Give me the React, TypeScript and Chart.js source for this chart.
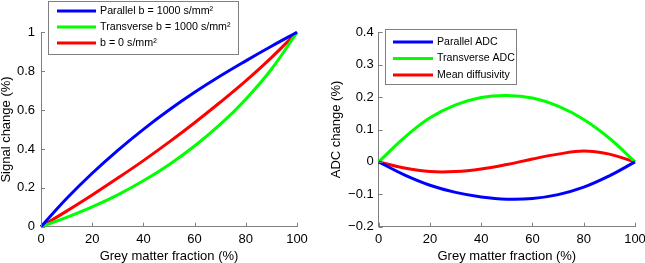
import React, { useEffect, useRef } from "react";
import { Chart, registerables } from "chart.js";
Chart.register(...registerables);

const FONT = '"Liberation Sans", Arial, Helvetica, sans-serif';
const AXIS_GREY = "#7f7f7f";

// ---- data ----
const gmFraction = [0, 10, 20, 30, 40, 50, 60, 70, 80, 90, 100];
const xTicks = [0, 20, 40, 60, 80, 100];

const parallelSignal = [0, 0.145, 0.275, 0.393, 0.501, 0.6, 0.691, 0.775, 0.853, 0.928, 1];
const transverseSignal = [0, 0.048, 0.102, 0.164, 0.236, 0.319, 0.415, 0.526, 0.656, 0.81, 1];
const b0Signal = [0, 0.08, 0.163, 0.25, 0.34, 0.435, 0.535, 0.64, 0.75, 0.87, 1];
const signalTicks = [0, 0.2, 0.4, 0.6, 0.8, 1];
const signalLabels = ["Parallel b = 1000 s/mm²", "Transverse b = 1000 s/mm²", "b = 0 s/mm²"];

const parallelADC = [0, -0.04, -0.072, -0.094, -0.108, -0.115, -0.113, -0.101, -0.078, -0.043, 0];
const transverseADC = [0, 0.075, 0.136, 0.176, 0.199, 0.205, 0.197, 0.172, 0.131, 0.073, 0];
const meanDiffusivity = [0, -0.019, -0.03, -0.03, -0.022, -0.008, 0.009, 0.024, 0.034, 0.024, 0];
const adcTicks = [-0.2, -0.1, 0, 0.1, 0.2, 0.3, 0.4];
const adcLabels = ["Parallel ADC", "Transverse ADC", "Mean diffusivity"];

const seriesColors = ["#0000ff", "#00ff00", "#ff0000"];

const toPoints = (ys: number[]) => gmFraction.map((x, i) => ({ x, y: ys[i] }));

const fmt = (v: number) => {
  const r = Math.round(v * 10) / 10;
  return (r < 0 ? "\u2212" : "") + String(Math.abs(r));
};

const inwardTicks = {
  id: "inwardTicks",
  afterDraw(chart: any) {
    const { ctx, chartArea, scales } = chart;
    const len = 4;
    ctx.save();
    ctx.strokeStyle = AXIS_GREY;
    ctx.lineWidth = 1;
    scales.x.ticks.forEach((t: any) => {
      const px = Math.round(scales.x.getPixelForValue(t.value)) + 0.5;
      ctx.beginPath();
      ctx.moveTo(px, chartArea.bottom);
      ctx.lineTo(px, chartArea.bottom - len);
      ctx.stroke();
    });
    scales.y.ticks.forEach((t: any) => {
      const py = Math.round(scales.y.getPixelForValue(t.value)) + 0.5;
      ctx.beginPath();
      ctx.moveTo(chartArea.left, py);
      ctx.lineTo(chartArea.left + len, py);
      ctx.stroke();
    });
    ctx.restore();
  },
};

const boxLegend = {
  id: "boxLegend",
  afterDraw(chart: any, _args: any, o: any) {
    if (!o || !o.box) return;
    const { ctx } = chart;
    const [bx, by, bw, bh] = o.box;
    ctx.save();
    ctx.fillStyle = "#ffffff";
    ctx.fillRect(bx, by, bw, bh);
    ctx.strokeStyle = AXIS_GREY;
    ctx.lineWidth = 1;
    ctx.strokeRect(bx + 0.5, by + 0.5, bw, bh);
    ctx.font = `${o.fontSize}px ${FONT}`;
    ctx.textBaseline = "middle";
    ctx.textAlign = "left";
    chart.data.datasets.forEach((ds: any, i: number) => {
      const y = o.rows[i];
      ctx.strokeStyle = ds.borderColor;
      ctx.lineWidth = 3;
      ctx.beginPath();
      ctx.moveTo(o.lineX[0], y);
      ctx.lineTo(o.lineX[1], y);
      ctx.stroke();
      ctx.fillStyle = "#000000";
      ctx.fillText(ds.label, o.textX, y);
    });
    ctx.restore();
  },
};

function makeConfig(opts: {
  series: number[][];
  labels: string[];
  yMin: number;
  yMax: number;
  yTicks: number[];
  yTitle: string;
  padLeft: number;
  padRight: number;
  yWidth: number;
  yPad: number;
  legend: any;
}) {
  return {
    type: "line",
    data: {
      datasets: opts.series.map((s, i) => ({
        label: opts.labels[i],
        data: toPoints(s),
        borderColor: seriesColors[i],
        backgroundColor: seriesColors[i],
        borderWidth: 3,
        pointRadius: 0,
        tension: 0.4,
        fill: false,
        clip: false,
      })),
    },
    options: {
      animation: false,
      responsive: false,
      devicePixelRatio: 1,
      layout: { padding: { left: opts.padLeft, right: opts.padRight, top: 32.3, bottom: 0 } },
      plugins: {
        legend: { display: false },
        tooltip: { enabled: false },
        boxLegend: opts.legend,
      },
      scales: {
        x: {
          type: "linear",
          min: 0,
          max: 100,
          afterBuildTicks: (s: any) => {
            s.ticks = xTicks.map((v) => ({ value: v }));
          },
          afterFit: (s: any) => {
            s.height = 263 - 226.7;
            s.paddingLeft = 0;
            s.paddingRight = 0;
          },
          ticks: {
            font: { family: FONT, size: 13, lineHeight: 1.2 },
            color: "#000000",
            padding: 5,
            maxRotation: 0,
            autoSkip: false,
            callback: (v: any) => String(v),
          },
          grid: { display: false, drawTicks: false },
          border: { display: true, color: AXIS_GREY, width: 1 },
          title: {
            display: true,
            text: "Grey matter fraction (%)",
            font: { family: FONT, size: 13, lineHeight: 1 },
            color: "#000000",
            padding: 0,
          },
        },
        y: {
          type: "linear",
          min: opts.yMin,
          max: opts.yMax,
          afterBuildTicks: (s: any) => {
            s.ticks = opts.yTicks.map((v) => ({ value: v }));
          },
          afterFit: (s: any) => {
            s.width = opts.yWidth;
            s.paddingTop = 0;
            s.paddingBottom = 0;
          },
          ticks: {
            font: { family: FONT, size: 13, lineHeight: 1.2 },
            color: "#000000",
            padding: opts.yPad,
            autoSkip: false,
            callback: (v: any) => fmt(Number(v)),
          },
          grid: { display: false, drawTicks: false },
          border: { display: true, color: AXIS_GREY, width: 1 },
          title: {
            display: true,
            text: opts.yTitle,
            font: { family: FONT, size: 13, lineHeight: 1 },
            color: "#000000",
            padding: 0,
          },
        },
      },
    },
    plugins: [inwardTicks, boxLegend],
  };
}

function Plot({ left, width, config }: { left: number; width: number; config: any }) {
  const ref = useRef<HTMLCanvasElement | null>(null);
  useEffect(() => {
    if (!ref.current) return;
    const chart = new Chart(ref.current, config);
    return () => chart.destroy();
  }, [config]);
  return (
    <canvas
      ref={ref}
      width={width}
      height={263}
      style={{ position: "absolute", left, top: 0, width, height: 263 }}
    />
  );
}

const leftConfig = makeConfig({
  series: [parallelSignal, transverseSignal, b0Signal],
  labels: signalLabels,
  yMin: 0,
  yMax: 1,
  yTicks: signalTicks,
  yTitle: "Signal change (%)",
  padLeft: 0,
  padRight: 23,
  yWidth: 41,
  yPad: 6,
  legend: {
    box: [48, 1, 190, 53],
    lineX: [57, 96],
    textX: 100,
    rows: [11, 27, 43],
    fontSize: 10.7,
  },
});

const rightConfig = makeConfig({
  series: [parallelADC, transverseADC, meanDiffusivity],
  labels: adcLabels,
  yMin: -0.2,
  yMax: 0.4,
  yTicks: adcTicks,
  yTitle: "ADC change (%)",
  padLeft: 10,
  padRight: 10,
  yWidth: 48.7,
  yPad: 5,
  legend: {
    box: [65, 29, 131, 55],
    lineX: [73, 113],
    textX: 117,
    rows: [42, 58.5, 75],
    fontSize: 10.6,
  },
});

export default function App() {
  return (
    <div style={{ position: "absolute", left: 0, top: 0, width: 645, height: 263, background: "#fff", overflow: "hidden" }}>
      <Plot left={0} width={320} config={leftConfig} />
      <Plot left={320} width={325} config={rightConfig} />
    </div>
  );
}
